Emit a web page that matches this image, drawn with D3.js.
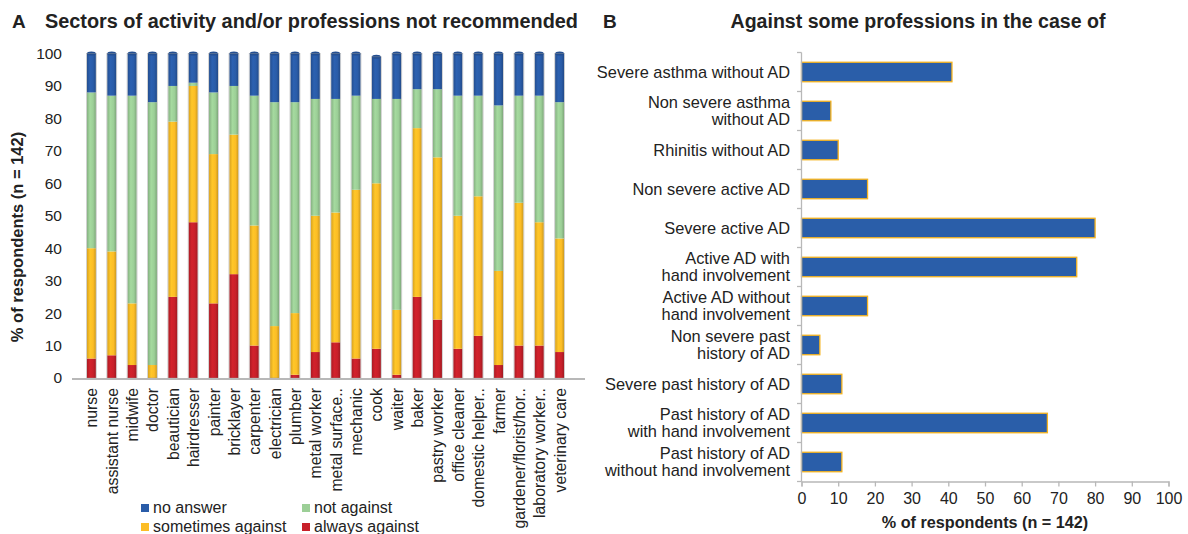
<!DOCTYPE html>
<html>
<head>
<meta charset="utf-8">
<script src="https://cdn.jsdelivr.net/npm/d3@7"></script>
<style>
  body { margin: 0; background: #fff; }
  text { font-family: "Liberation Sans", Arial, sans-serif; fill: #222; }
</style>
</head>
<body>
<script>
// panel A data: cumulative stacks
var professions = ['nurse', 'assistant nurse', 'midwife', 'doctor', 'beautician', 'hairdresser',
  'painter', 'bricklayer', 'carpenter', 'electrician', 'plumber', 'metal worker', 'metal surface..',
  'mechanic', 'cook', 'waiter', 'baker', 'pastry worker', 'office cleaner', 'domestic helper..',
  'farmer', 'gardener/florist/hor..', 'laboratory worker..', 'veterinary care'];
var alwaysAgainst    = [6, 7, 4, 0, 25, 48, 23, 32, 10, 0, 1, 8, 11, 6, 9, 1, 25, 18, 9, 13, 4, 10, 10, 8];
var sometimesAgainst = [34, 32, 19, 4, 54, 42, 46, 43, 37, 16, 19, 42, 40, 52, 51, 20, 52, 50, 41, 43, 29, 44, 38, 35];
var notAgainst       = [48, 48, 64, 81, 11, 1, 19, 15, 40, 69, 65, 36, 35, 29, 26, 65, 12, 21, 37, 31, 51, 33, 39, 42];
var noAnswer         = [12, 13, 13, 15, 10, 9, 12, 10, 13, 15, 15, 14, 14, 13, 13, 14, 11, 11, 13, 13, 16, 13, 13, 15];
var seriesNames = ['always against', 'sometimes against', 'not against', 'no answer'];
var seriesColors = ['#c8202a', '#fcbd26', '#9ccf97', '#2a5ca8'];
var yTicks = [0, 10, 20, 30, 40, 50, 60, 70, 80, 90, 100];

// panel B data
var conditions = [
  ['Severe asthma without AD'],
  ['Non severe asthma', 'without AD'],
  ['Rhinitis without AD'],
  ['Non severe active AD'],
  ['Severe active AD'],
  ['Active AD with', 'hand involvement'],
  ['Active AD without', 'hand involvement'],
  ['Non severe past', 'history of AD'],
  ['Severe past history of AD'],
  ['Past history of AD', 'with hand involvement'],
  ['Past history of AD', 'without hand involvement']
];
var conditionValues = [41, 8, 10, 18, 80, 75, 18, 5, 11, 67, 11];
var xTicks = [0, 10, 20, 30, 40, 50, 60, 70, 80, 90, 100];

var svg = d3.select('body').append('svg')
  .attr('width', 1188)
  .attr('height', 534);

// cylinder shading
var defs = svg.append('defs');
seriesColors.forEach(function(c, i) {
  var g = defs.append('linearGradient').attr('id', 'cyl' + i)
    .attr('x1', 0).attr('x2', 1).attr('y1', 0).attr('y2', 0);
  var base = d3.color(c);
  g.append('stop').attr('offset', '0%').attr('stop-color', base.darker(0.45));
  g.append('stop').attr('offset', '35%').attr('stop-color', base.brighter(0.15));
  g.append('stop').attr('offset', '70%').attr('stop-color', base);
  g.append('stop').attr('offset', '100%').attr('stop-color', base.darker(0.6));
});

// ---------- panel A ----------
svg.append('text').attr('x', 12).attr('y', 28)
  .style('font-weight', 'bold').style('font-size', '19px').text('A');
svg.append('text').attr('x', 45).attr('y', 28)
  .attr('textLength', 533).attr('lengthAdjust', 'spacingAndGlyphs')
  .style('font-weight', 'bold').style('font-size', '19.5px')
  .text('Sectors of activity and/or professions not recommended');

var xA = d3.scaleBand().domain(professions).range([75.5, 575.5]).padding(0.56);
var yA = d3.scaleLinear().domain([0, 100]).range([378, 53.5]);

var rows = professions.map(function(p, i) {
  return { name: p, 'always against': alwaysAgainst[i], 'sometimes against': sometimesAgainst[i],
    'not against': notAgainst[i], 'no answer': noAnswer[i] };
});
var stacked = d3.stack().keys(seriesNames)(rows);

var gA = svg.append('g');
stacked.forEach(function(layer, li) {
  gA.selectAll('.s' + li).data(layer).enter().append('rect')
    .attr('x', function(d) { return xA(d.data.name); })
    .attr('y', function(d) { return yA(d[1]); })
    .attr('width', xA.bandwidth())
    .attr('height', function(d) { return Math.max(0, yA(d[0]) - yA(d[1])); })
    .attr('fill', 'url(#cyl' + li + ')');
});
// top caps
gA.selectAll('.cap').data(stacked[3]).enter().append('ellipse')
  .attr('cx', function(d) { return xA(d.data.name) + xA.bandwidth() / 2; })
  .attr('cy', function(d) { return yA(d[1]); })
  .attr('rx', xA.bandwidth() / 2)
  .attr('ry', 2)
  .attr('fill', '#244f91');
// outlines
gA.selectAll('.outline').data(stacked[3]).enter().append('rect')
  .attr('x', function(d) { return xA(d.data.name) - 0.5; })
  .attr('y', function(d) { return yA(d[1]); })
  .attr('width', xA.bandwidth() + 1)
  .attr('height', function(d) { return yA(0) - yA(d[1]); })
  .attr('fill', 'none')
  .attr('stroke', '#9a9a9a')
  .attr('stroke-opacity', 0.5)
  .attr('stroke-width', 0.8);

// baseline
svg.append('line').attr('x1', 72).attr('x2', 585).attr('y1', 379).attr('y2', 379)
  .attr('stroke', '#b8b8b8').attr('stroke-width', 2);

// y axis labels, no axis line
var yAxisA = svg.append('g').attr('transform', 'translate(62,0)')
  .call(d3.axisLeft(yA).tickValues(yTicks).tickSize(0).tickPadding(0));
yAxisA.select('.domain').remove();
yAxisA.selectAll('text').style('font-size', '15.5px').attr('fill', '#222')
  .style('font-family', '"Liberation Sans", Arial, sans-serif');

svg.append('text')
  .attr('transform', 'translate(23,237) rotate(-90)')
  .attr('text-anchor', 'middle')
  .style('font-weight', 'bold').style('font-size', '16.5px')
  .text('% of respondents (n = 142)');

// category labels
svg.append('g').selectAll('text').data(professions).enter().append('text')
  .attr('transform', function(d) {
    return 'translate(' + (xA(d) + xA.bandwidth() / 2 + 6) + ',388) rotate(-90)';
  })
  .attr('text-anchor', 'end')
  .style('font-size', '15.8px')
  .text(function(d) { return d; });

// legend
var legendItems = [
  { name: 'no answer', color: seriesColors[3], x: 141, y: 504 },
  { name: 'not against', color: seriesColors[2], x: 302, y: 504 },
  { name: 'sometimes against', color: seriesColors[1], x: 141, y: 523 },
  { name: 'always against', color: seriesColors[0], x: 302, y: 523 }
];
var lg = svg.append('g').selectAll('g').data(legendItems).enter().append('g')
  .attr('transform', function(d) { return 'translate(' + d.x + ',' + d.y + ')'; });
lg.append('rect').attr('width', 8).attr('height', 8).attr('fill', function(d) { return d.color; });
lg.append('text').attr('x', 12).attr('y', 9).style('font-size', '16px')
  .text(function(d) { return d.name; });

// ---------- panel B ----------
svg.append('text').attr('x', 603).attr('y', 28)
  .style('font-weight', 'bold').style('font-size', '19px').text('B');
svg.append('text').attr('x', 918).attr('y', 28)
  .attr('text-anchor', 'middle')
  .attr('textLength', 375).attr('lengthAdjust', 'spacingAndGlyphs')
  .style('font-weight', 'bold').style('font-size', '19.5px')
  .text('Against some professions in the case of');

var xB = d3.scaleLinear().domain([0, 100]).range([801.5, 1168.5]);
var yB = d3.scaleBand().domain(d3.range(conditions.length)).range([52.5, 481.5])
  .paddingInner(0.5).paddingOuter(0.25);
var step = yB.step();

svg.append('g').selectAll('rect').data(conditionValues).enter().append('rect')
  .attr('x', xB(0))
  .attr('y', function(d, i) { return yB(i); })
  .attr('width', function(d) { return xB(d) - xB(0); })
  .attr('height', yB.bandwidth())
  .attr('fill', '#2a5ea9')
  .attr('stroke', '#f5b31f')
  .attr('stroke-width', 1.3);

// y axis with ticks at band boundaries
var gy = svg.append('g');
gy.append('line').attr('x1', 801.5).attr('x2', 801.5).attr('y1', 52.5).attr('y2', 481.5)
  .attr('stroke', '#b8b8b8').attr('stroke-width', 1.3);
gy.selectAll('.yt').data(d3.range(conditions.length + 1)).enter().append('line')
  .attr('x1', 797).attr('x2', 801.5)
  .attr('y1', function(d) { return 52.5 + d * step; })
  .attr('y2', function(d) { return 52.5 + d * step; })
  .attr('stroke', '#b8b8b8').attr('stroke-width', 1.3);

var labelsB = svg.append('g').selectAll('text').data(conditions).enter().append('text')
  .attr('text-anchor', 'end')
  .style('font-size', '16.4px')
  .attr('transform', function(d, i) {
    var cy = yB(i) + yB.bandwidth() / 2;
    return 'translate(790,' + cy + ')';
  });
labelsB.selectAll('tspan').data(function(d) { return d; }).enter().append('tspan')
  .attr('x', 0)
  .attr('y', function(t, j, nodes) {
    var n = nodes.length;
    return (j - (n - 1) / 2) * 16.7 + 5.5;
  })
  .text(function(t) { return t; });

var xAxisB = svg.append('g').attr('transform', 'translate(0,481.5)')
  .call(d3.axisBottom(xB).tickValues(xTicks).tickSize(5).tickPadding(6));
xAxisB.select('.domain').attr('stroke', '#b8b8b8').attr('stroke-width', 1.3);
xAxisB.selectAll('line').attr('stroke', '#b8b8b8').attr('stroke-width', 1.3);
xAxisB.selectAll('text').style('font-size', '16px').attr('fill', '#222')
  .style('font-family', '"Liberation Sans", Arial, sans-serif');

svg.append('text').attr('x', 985).attr('y', 528)
  .attr('text-anchor', 'middle')
  .style('font-weight', 'bold').style('font-size', '16.2px')
  .text('% of respondents (n = 142)');
</script>
</body>
</html>
